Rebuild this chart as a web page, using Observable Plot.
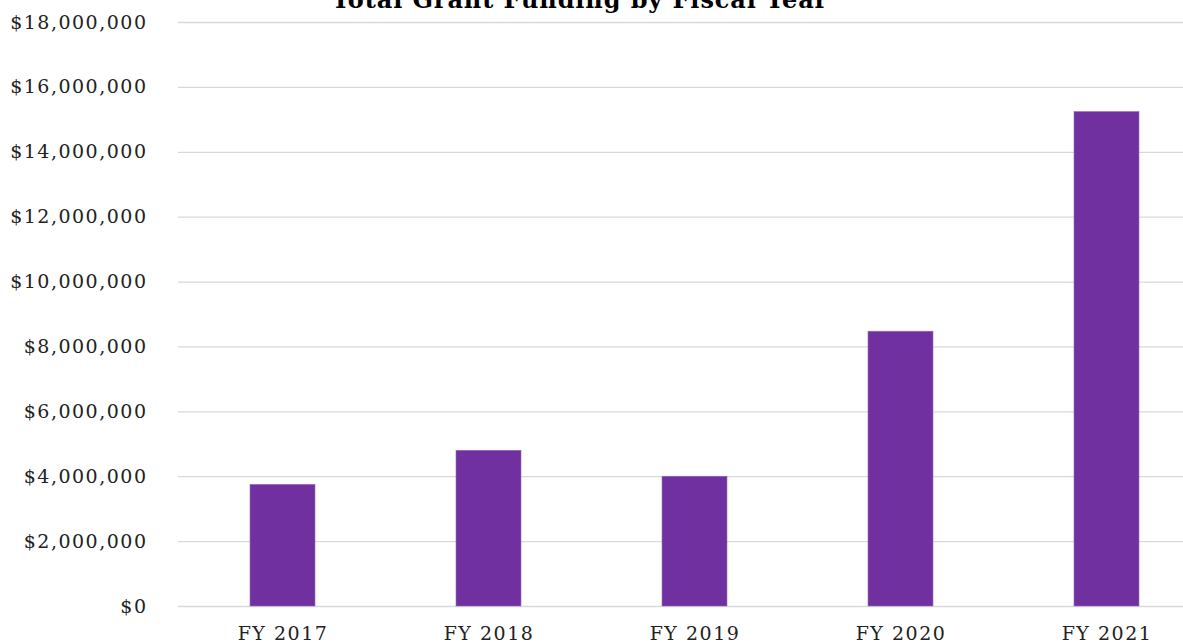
<!DOCTYPE html>
<html>
<head>
<meta charset="utf-8">
<script src="https://cdn.jsdelivr.net/npm/d3@7"></script>
<script src="https://cdn.jsdelivr.net/npm/@observablehq/plot@0.6"></script>
<style>
  html, body { margin: 0; padding: 0; background: #fff; overflow: hidden; width: 1183px; height: 644px; }
  #wrap { position: relative; width: 1183px; height: 644px; overflow: hidden; }
  #title { position: absolute; left: 0; width: 1160px; text-align: center; top: -12px;
           font-family: "DejaVu Serif", serif; font-weight: bold; font-size: 24px; letter-spacing: 0.9px;
           color: #000; line-height: 1; }
  #chart { position: absolute; left: 0; top: 0; }
  #chart svg text { letter-spacing: 1.5px; }
</style>
</head>
<body>
<div id="wrap">
  <div id="chart"></div>
  <div id="title">Total Grant Funding by Fiscal Year</div>
</div>
<script>
const years = ["FY 2017", "FY 2018", "FY 2019", "FY 2020", "FY 2021"];
const funding = [3750000, 4800000, 4000000, 8470000, 15240000];
const yTicks = [0, 2000000, 4000000, 6000000, 8000000, 10000000, 12000000, 14000000, 16000000, 18000000];

const data = years.map((y, i) => ({year: y, value: funding[i]}));

const chart = Plot.plot({
  width: 1210,
  height: 644,
  marginLeft: 178,
  marginRight: 0,
  marginTop: 22,
  marginBottom: 38,
  style: {
    maxWidth: "none",
    fontFamily: "'DejaVu Serif', serif",
    fontSize: "19px",
    color: "#222",
    background: "transparent",
    overflow: "hidden"
  },
  x: { domain: years, paddingInner: 0.685, paddingOuter: 0.342, label: null },
  y: { domain: [0, 18000000], label: null },
  marks: [
    Plot.gridY(yTicks, { stroke: "#d9d9d9", strokeOpacity: 1, strokeWidth: 1.3 }),
    Plot.barY(data, { x: "year", y: "value", fill: "#7030A0", stroke: "#9a6cc0", strokeWidth: 0.6 }),
    Plot.axisY(yTicks, { tickSize: 0, tickPadding: 31, tickFormat: d3.format("$,"), label: null, fill: "#222" }),
    Plot.axisX({ tickSize: 0, tickPadding: 20, label: null, fill: "#222" })
  ]
});
document.getElementById("chart").appendChild(chart);
</script>
</body>
</html>
